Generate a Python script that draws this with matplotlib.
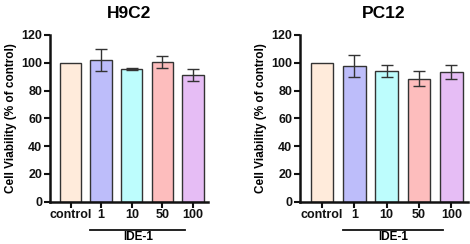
import numpy as np
import matplotlib.pyplot as plt

plt.rcParams['font.family'] = ['Liberation Sans', 'DejaVu Sans']
plt.rcParams['font.weight'] = 'bold'

groups = ['control', '1', '10', '50', '100']
colors = ['#FFEBDB', '#BDBDFA', '#BDFDFD', '#FDBDBD', '#E6BDF5']

h9c2_mean = [100, 102, 95.5, 100.5, 91]
h9c2_err = [0, 8, 0.8, 4, 4.3]
pc12_mean = [100, 97.5, 94, 88.5, 93]
pc12_err = [0, 8, 4.5, 5.5, 5]

fig = plt.figure(figsize=(4.7, 2.44), dpi=100)
ax1 = fig.add_axes([0.106, 0.173, 0.337, 0.684])
ax2 = fig.add_axes([0.638, 0.173, 0.357, 0.684])


def draw(ax, title, mean, err):
    x = np.arange(len(groups))
    ax.bar(x, mean, width=0.7, color=colors, edgecolor='#333333', linewidth=1.0)
    ax.errorbar(x[1:], mean[1:], yerr=err[1:], fmt='none', ecolor='#333333',
                elinewidth=1.0, capsize=4, capthick=1.0)
    ax.set_xlim(-0.68, 4.5)
    ax.set_ylim(0, 120)
    ax.set_yticks(range(0, 121, 20))
    ax.set_xticks(x)
    ax.set_xticklabels(groups)
    for s in ['top', 'right']:
        ax.spines[s].set_visible(False)
    for s in ['left', 'bottom']:
        ax.spines[s].set_linewidth(1.8)
        ax.spines[s].set_color('#111111')
    ax.tick_params(width=1.5, length=4, labelsize=9, pad=1.5, colors='#111111')
    ax.set_ylabel('Cell Viability (% of control)', fontsize=8.5, fontweight='bold', labelpad=3)
    ax.set_title(title, fontsize=12.5, fontweight='bold', pad=12)
    # IDE-1 bracket line under the dose labels
    ax.plot([0.65, 3.75], [-0.17, -0.17], transform=ax.get_xaxis_transform(),
            color='#111111', linewidth=1.3, clip_on=False)
    ax.text(2.2, -0.212, 'IDE-1', transform=ax.get_xaxis_transform(),
            ha='center', va='center', fontsize=8.5, fontweight='bold')


draw(ax1, 'H9C2', h9c2_mean, h9c2_err)
draw(ax2, 'PC12', pc12_mean, pc12_err)

fig.savefig('out.png', dpi=100)
